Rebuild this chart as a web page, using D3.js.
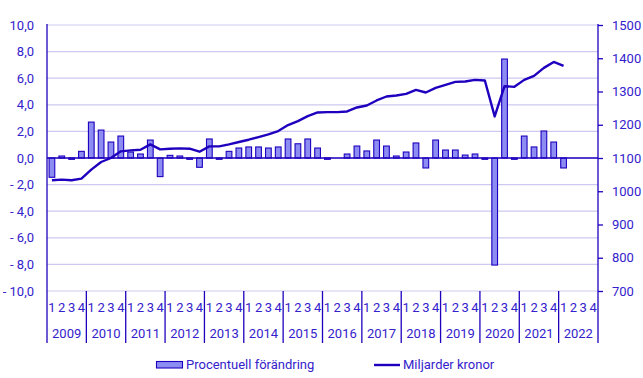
<!DOCTYPE html>
<html><head><meta charset="utf-8">
<script src="https://cdn.jsdelivr.net/npm/d3@7"></script>
<style>body{margin:0;background:#fff}svg{display:block}text{font-family:Roboto,"Liberation Sans",Arial,sans-serif}</style>
</head><body><svg id="c" width="643" height="378"></svg>
<script>
const years = ["2009","2010","2011","2012","2013","2014","2015","2016","2017","2018","2019","2020","2021","2022"];
const quarterLabels = ["1","2","3","4"];
const pctChange = [
 -1.45, 0.15, -0.1, 0.5,
 2.7, 2.1, 1.2, 1.65,
 0.45, 0.3, 1.35, -1.4,
 0.2, 0.15, -0.1, -0.7,
 1.43, -0.1, 0.5, 0.75,
 0.83, 0.83, 0.75, 0.83,
 1.43, 1.07, 1.43, 0.75,
 -0.1, 0, 0.3, 0.9,
 0.53, 1.35, 0.9, 0.15,
 0.45, 1.13, -0.75, 1.35,
 0.6, 0.6, 0.22, 0.3,
 -0.1, -8.05, 7.44, -0.1,
 1.65, 0.83, 2.03, 1.2,
 -0.75];
const billions = [
 1033, 1035, 1033, 1038,
 1065, 1088, 1100, 1120,
 1123, 1125, 1141, 1126,
 1128, 1129, 1128, 1119,
 1135, 1135, 1141, 1148,
 1155, 1163, 1171, 1181,
 1199, 1211, 1226, 1237,
 1238, 1238, 1240, 1252,
 1258, 1273, 1285, 1288,
 1293, 1305, 1297, 1311,
 1320, 1329, 1330, 1335,
 1333, 1225, 1316, 1314,
 1335, 1347, 1371, 1389,
 1377];
const leftTicks = [10,8,6,4,2,0,-2,-4,-6,-8,-10];
const rightTicks = [1500,1400,1300,1200,1100,1000,900,800,700];
const legendLabels = ["Procentuell förändring","Miljarder kronor"];

const dark = "#1e00be", text = "#3322cc", grid = "#cdc9f0", barFill = "#8c8cf2";
const L = 47, R = 598, T = 25, B = 291;
const svg = d3.select("#c");
const slots = d3.range(years.length*4);
const x = d3.scaleBand().domain(slots).range([L,R]).paddingInner(0.42).paddingOuter(0.21);
const yL = d3.scaleLinear().domain([-10,10]).range([B,T]);
const yR = d3.scaleLinear().domain([700,1500]).range([B,T]);
const step = (R-L)/slots.length;

// grid
svg.append("g").selectAll("line").data(leftTicks).join("line")
 .attr("x1",L).attr("x2",R).attr("y1",d=>yL(d)).attr("y2",d=>yL(d))
 .attr("stroke",grid).attr("stroke-width",1.2);

// bars
svg.append("g").selectAll("rect").data(pctChange).join("rect")
 .attr("x",(d,i)=>x(i)).attr("width",x.bandwidth())
 .attr("y",d=>yL(Math.max(0,d))).attr("height",d=>Math.abs(yL(d)-yL(0)))
 .attr("fill",barFill).attr("stroke",dark).attr("stroke-width",1.1);

// zero line
svg.append("line").attr("x1",L).attr("x2",R).attr("y1",yL(0)).attr("y2",yL(0))
 .attr("stroke",dark).attr("stroke-width",1.3);

// line
svg.append("path").datum(billions)
 .attr("d",d3.line().x((d,i)=>x(i)+x.bandwidth()/2).y(d=>yR(d)))
 .attr("fill","none").attr("stroke",dark).attr("stroke-width",2.4).attr("stroke-linejoin","round");

// left axis
const gl = svg.append("g").attr("transform",`translate(${L},0)`)
 .call(d3.axisLeft(yL).tickValues(leftTicks).tickSize(0).tickPadding(13)
   .tickFormat(d=>(d<0?"- ":"")+Math.abs(d).toFixed(1).replace(".",",")));
gl.select(".domain").remove();
gl.selectAll("text").attr("fill",text).style("font-size","13px");
svg.append("line").attr("x1",L).attr("x2",L).attr("y1",T-1).attr("y2",343).attr("stroke",dark).attr("stroke-width",1.3);

// right axis
const gr = svg.append("g").attr("transform",`translate(${R},0)`)
 .call(d3.axisRight(yR).tickValues(rightTicks).tickSize(5).tickPadding(9).tickFormat(d3.format("d")));
gr.select(".domain").remove();
gr.selectAll("line").attr("stroke",dark).attr("stroke-width",1.3);
gr.selectAll("text").attr("fill",text).style("font-size","13px");
svg.append("line").attr("x1",R).attr("x2",R).attr("y1",T-1).attr("y2",343).attr("stroke",dark).attr("stroke-width",1.3);

// x axis labels
const gx = svg.append("g");
gx.selectAll("text.q").data(slots).join("text").attr("class","q")
 .attr("x",i=>x(i)+x.bandwidth()/2).attr("y",312).attr("text-anchor","middle")
 .attr("fill",text).style("font-size","13px").text(i=>quarterLabels[i%4]);
gx.selectAll("text.y").data(years).join("text").attr("class","y")
 .attr("x",(d,i)=>L+step*4*i+step*2).attr("y",338).attr("text-anchor","middle")
 .attr("fill",text).style("font-size","13px").text(d=>d);
gx.selectAll("line").data(d3.range(1,years.length)).join("line")
 .attr("x1",i=>L+step*4*i).attr("x2",i=>L+step*4*i).attr("y1",B).attr("y2",343)
 .attr("stroke",dark).attr("stroke-width",1.3);

// legend
const lg = svg.append("g");
lg.append("rect").attr("x",156.5).attr("y",361.5).attr("width",26).attr("height",6.5)
 .attr("fill",barFill).attr("stroke",dark).attr("stroke-width",1.1);
lg.append("text").attr("x",186).attr("y",369).attr("fill",text).style("font-size","13px").text(legendLabels[0]);
lg.append("line").attr("x1",374).attr("x2",400).attr("y1",365).attr("y2",365).attr("stroke",dark).attr("stroke-width",2.4);
lg.append("text").attr("x",403).attr("y",369).attr("fill",text).style("font-size","13px").text(legendLabels[1]);
</script></body></html>
